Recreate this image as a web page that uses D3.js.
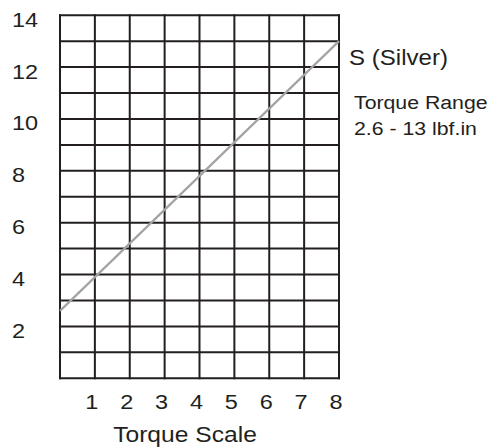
<!DOCTYPE html>
<html>
<head>
<meta charset="utf-8">
<script src="https://cdn.jsdelivr.net/npm/d3@7"></script>
<style>
  body { margin: 0; background: #fff; }
  svg text { font-family: "Liberation Sans", Arial, sans-serif; fill: #231f20; }
</style>
</head>
<body>
<svg class="chart"></svg>
<script>
var scalePoints = [0, 8];
var torqueValues = [2.6, 13];

// Tick labels.
var xTickLabels = [1, 2, 3, 4, 5, 6, 7, 8];
var yTickLabels = [2, 4, 6, 8, 10, 12, 14];

// Grid lines, one per unit.
var xGrid = [0, 1, 2, 3, 4, 5, 6, 7, 8];
var yGrid = [0, 1, 2, 3, 4, 5, 6, 7, 8, 9, 10, 11, 12, 13, 14];

var seriesName = "S (Silver)";
var rangeLines = ["Torque Range", "2.6 - 13 lbf.in"];

var width = 497, height = 448;
// The original lettering is a little wider than the font, so stretch text sideways.
var stretch = 1.12;

var svg = d3.select(".chart")
    .attr("width", width)
    .attr("height", height);

var x = d3.scaleLinear().domain([0, 8]).range([60, 339]);
var y = d3.scaleLinear().domain([0, 14]).range([378.3, 15.2]);

function place(px, py) {
    return "translate(" + px + "," + py + ") scale(" + stretch + ",1)";
}

// Grid.
var grid = svg.append("g")
    .attr("stroke", "#231f20")
    .attr("stroke-width", 2)
    .attr("stroke-linecap", "square");

grid.selectAll(".vline").data(xGrid).enter().append("line")
    .attr("class", "vline")
    .attr("x1", function(d) { return x(d); })
    .attr("x2", function(d) { return x(d); })
    .attr("y1", y(0))
    .attr("y2", y(14));

grid.selectAll(".hline").data(yGrid).enter().append("line")
    .attr("class", "hline")
    .attr("x1", x(0))
    .attr("x2", x(8))
    .attr("y1", function(d) { return y(d); })
    .attr("y2", function(d) { return y(d); });

// The torque line.
var data = scalePoints.map(function(s, i) { return {s: s, t: torqueValues[i]}; });
var line = d3.line()
    .x(function(d) { return x(d.s); })
    .y(function(d) { return y(d.t); });

svg.append("path")
    .datum(data)
    .attr("d", line)
    .attr("fill", "none")
    .attr("stroke", "#a3a3a3")
    .attr("stroke-width", 2.2);

// Tick labels.
svg.selectAll(".ylab").data(yTickLabels).enter().append("text")
    .attr("class", "ylab")
    .attr("transform", function(d) { return place(12, y(d) + 11.5); })
    .attr("font-size", 21)
    .text(function(d) { return d; });

svg.selectAll(".xlab").data(xTickLabels).enter().append("text")
    .attr("class", "xlab")
    .attr("transform", function(d) { return place(x(d) - 3, 409); })
    .attr("text-anchor", "middle")
    .attr("font-size", 21)
    .text(function(d) { return d; });

// Axis title.
svg.append("text")
    .attr("transform", place(185, 442))
    .attr("text-anchor", "middle")
    .attr("font-size", 22)
    .text("Torque Scale");

// Series label and range note.
svg.append("text")
    .attr("transform", place(349, 65))
    .attr("font-size", 21.5)
    .text(seriesName);

svg.selectAll(".range").data(rangeLines).enter().append("text")
    .attr("class", "range")
    .attr("transform", function(d, i) { return place(354, 109 + i * 26); })
    .attr("font-size", 19)
    .text(function(d) { return d; });
</script>
</body>
</html>
